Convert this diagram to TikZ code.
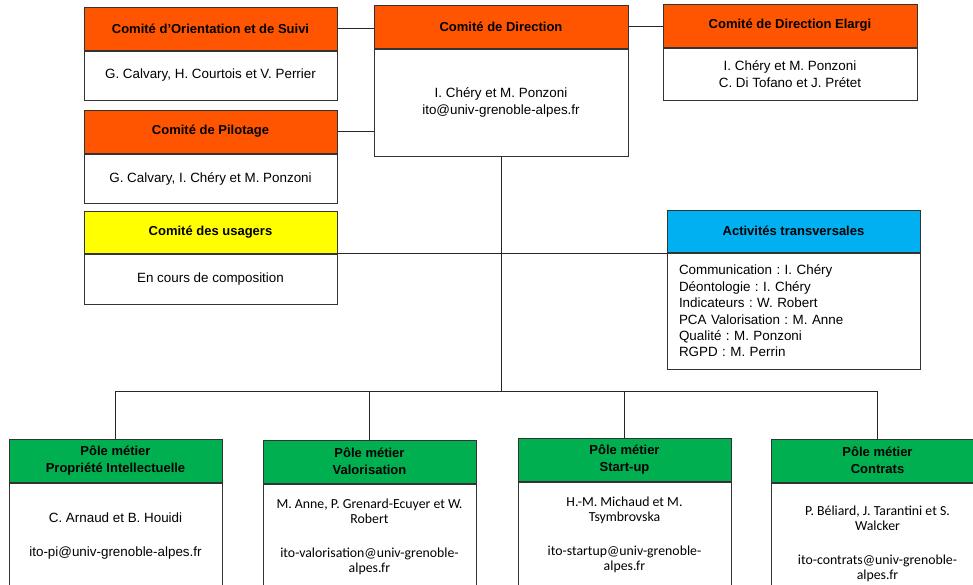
\documentclass[tikz,border=0pt]{standalone}
\usepackage{fontspec}
\setmainfont{Liberation Sans}
\newfontfamily\calibri{Carlito}
\usetikzlibrary{positioning}
\definecolor{comorange}{RGB}{255,85,0}
\definecolor{comyellow}{RGB}{255,255,0}
\definecolor{comblue}{RGB}{0,176,240}
\definecolor{comgreen}{RGB}{0,176,80}
\frenchspacing
\begin{document}
\begin{tikzpicture}[x=1pt,y=-1pt,
  hdr/.style={draw=black!80,line width=1pt,minimum width=253pt,minimum height=43pt,inner sep=0pt,align=center,font=\fontsize{13}{17}\selectfont\bfseries},
  bodybox/.style={draw=black!80,line width=1pt,minimum width=253pt,inner sep=0pt,align=center,font=\fontsize{13.4}{17}\selectfont},
  polehdr/.style={hdr,fill=comgreen,minimum width=213pt},
  polebody/.style={bodybox,minimum width=213pt,minimum height=106pt},
  calbody/.style={polebody,font=\calibri\fontsize{13.8}{15}\selectfont},
  link/.style={draw=black!85,line width=1pt}]
\useasboundingbox (0,0) rectangle (973,584);

% Comites on the left
\node[hdr,fill=comorange] (cos) at (210.5,28.5) {Comité d'Orientation et de Suivi};
\node[bodybox,minimum height=49pt,below=0pt of cos] (cosb) {G. Calvary, H. Courtois et V. Perrier};
\node[hdr,fill=comorange] (cpil) at (210.5,131.5) {Comité de Pilotage};
\node[bodybox,minimum height=49pt,below=0pt of cpil] (cpilb) {G. Calvary, I. Chéry et M. Ponzoni};
\node[hdr,fill=comyellow,minimum height=42pt] (cusa) at (210.5,232) {Comité des usagers};
\node[bodybox,minimum height=50pt,below=0pt of cusa] (cusab) {En cours de composition};

% Direction
\node[hdr,fill=comorange,minimum width=254pt] (cdir) at (501,26.5) {Comité de Direction};
\node[bodybox,minimum width=254pt,minimum height=107pt,below=0pt of cdir] (cdirb) {I. Chéry et M. Ponzoni\\ito@univ-grenoble-alpes.fr};
\node[hdr,fill=comorange,minimum width=254pt] (cel) at (790,25.5) {Comité de Direction Elargi};
\node[bodybox,minimum width=254pt,minimum height=52pt,below=0pt of cel] (celb) {I. Chéry et M. Ponzoni\\C. Di Tofano et J. Prétet};

% Transverse activities
\node[hdr,fill=comblue,minimum height=42pt] (act) at (793.5,231) {Activités transversales};
\node[bodybox,align=left,inner xsep=12pt,text width=229pt,minimum height=116pt,below=0pt of act,font=\fontsize{13.4}{16.4}\selectfont] (actb)
  {Communication : I. Chéry\\Déontologie : I. Chéry\\Indicateurs : W. Robert\\PCA Valorisation : M. Anne\\Qualité : M. Ponzoni\\RGPD : M. Perrin};

% Poles metier
\node[polehdr] (pi) at (115.5,460.5) {Pôle métier\\Propriété Intellectuelle};
\node[polebody,below=0pt of pi] (pib) {C. Arnaud et B. Houidi\\[17pt]ito-pi@univ-grenoble-alpes.fr};
\node[polehdr] (val) at (369.5,461.5) {Pôle métier\\Valorisation};
\node[calbody,below=0pt of val] (valb) {M. Anne, P. Grenard-Ecuyer et W.\\Robert\\[19pt]ito-valorisation@univ-grenoble-\\alpes.fr};
\node[polehdr] (su) at (624.5,459.5) {Pôle métier\\Start-up};
\node[calbody,below=0pt of su] (sub) {H.-M. Michaud et M.\\Tsymbrovska\\[19pt]ito-startup@univ-grenoble-\\alpes.fr};
\node[polehdr] (con) at (877.5,460.5) {Pôle métier\\Contrats};
\node[calbody,minimum height=121pt,below=0pt of con] (conb) {P. Béliard, J. Tarantini et S.\\Walcker\\[19pt]ito-contrats@univ-grenoble-\\alpes.fr};

% Connections
\draw[link] (cos.east) -- (cos.east -| cdir.west);
\draw[link] (cpil.east) -- (cpil.east -| cdirb.west);
\draw[link] (cdir.east) -- (cdir.east -| cel.west);
\draw[link] (cusa.south east) -- (cusa.south east -| act.west);
\coordinate (bus) at (501,391);
\draw[link] (cdirb.south) -- (bus);
\draw[link] (pi.north) -- (pi.north |- bus) -- (con.north |- bus) -- (con.north);
\draw[link] (val.north) -- (val.north |- bus);
\draw[link] (su.north) -- (su.north |- bus);
\end{tikzpicture}
\end{document}
